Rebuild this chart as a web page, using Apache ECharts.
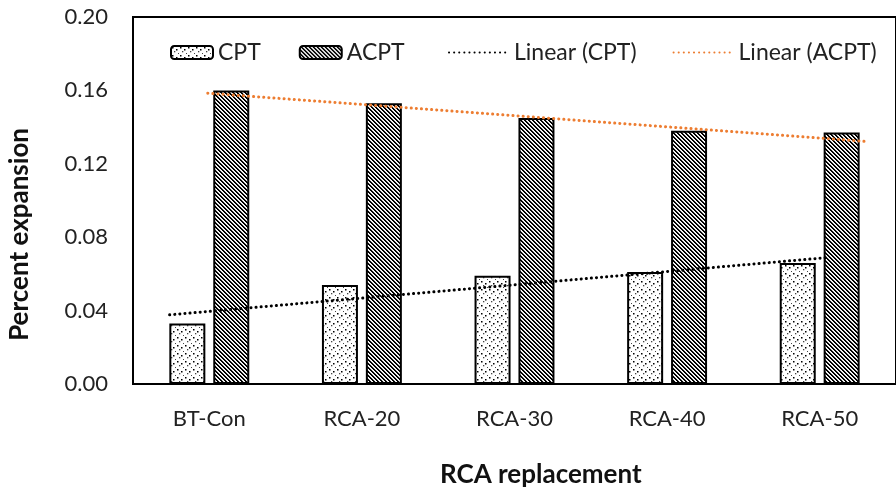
<!DOCTYPE html>
<html>
<head>
<meta charset="utf-8">
<script src="https://cdn.jsdelivr.net/npm/echarts@6/dist/echarts.min.js"></script>
<style>
  html, body { margin: 0; padding: 0; background: #fff; }
  #chart { width: 896px; height: 496px; }
</style>
</head>
<body>
<div id="chart"></div>
<script>
// data
var categories = ['BT-Con', 'RCA-20', 'RCA-30', 'RCA-40', 'RCA-50']
var cptValues = [0.033, 0.054, 0.059, 0.061, 0.066]
var acptValues = [0.160, 0.153, 0.145, 0.138, 0.137]
// trendline end points as drawn (x in category units, 1 = first category)
var cptTrend = [[0.74, 0.0377], [5.05, 0.0689]]
var acptTrend = [[0.99, 0.1585], [5.30, 0.1322]]

var FONT = 'Lato, "Liberation Sans", sans-serif'

// fill patterns
function dotPattern() {
  var c = document.createElement('canvas')
  c.width = 8; c.height = 8
  var g = c.getContext('2d')
  g.fillStyle = '#fff'
  g.fillRect(0, 0, 8, 8)
  g.fillStyle = '#000'
  g.fillRect(1, 1, 1.5, 1.5)
  g.fillRect(5, 3, 1.5, 1.5)
  g.fillStyle = '#444'
  g.fillRect(3, 5, 1.3, 1.3)
  g.fillRect(7, 7, 1.3, 1.3)
  return c
}
function stripePattern() {
  var c = document.createElement('canvas')
  c.width = 4; c.height = 4
  var g = c.getContext('2d')
  g.fillStyle = '#fff'
  g.fillRect(0, 0, 4, 4)
  for (var y = 0; y < 4; y++) {
    for (var x = 0; x < 4; x++) {
      var d = ((x - y) % 4 + 4) % 4
      if (d === 0 || d === 1) {
        g.fillStyle = '#000'
        g.fillRect(x, y, 1, 1)
      } else if (d === 2) {
        g.fillStyle = '#ddd'
        g.fillRect(x, y, 1, 1)
      }
    }
  }
  return c
}

var chart = echarts.init(document.getElementById('chart'), null, { renderer: 'canvas' })

var legendText = { fontFamily: FONT, fontSize: 23, color: '#222' }

chart.setOption({
  animation: false,
  backgroundColor: '#fff',
  textStyle: { fontFamily: FONT },
  grid: {
    left: 133, top: 17, right: -3, bottom: 112,
    show: true, borderColor: '#000', borderWidth: 2
  },
  legend: [{
    top: 36, left: 165,
    itemWidth: 42, itemHeight: 13, itemGap: 38, itemTextGap: 4,
    textStyle: legendText,
    data: [
      { name: 'CPT', itemStyle: { borderColor: '#000', borderWidth: 2 } },
      { name: 'ACPT', itemStyle: { borderColor: '#000', borderWidth: 2 } }
    ]
  }, {
    top: 36, left: 443,
    itemWidth: 60, itemHeight: 13, itemGap: 36, itemTextGap: 6,
    textStyle: legendText,
    data: [
      { name: 'Linear (CPT)', itemStyle: { opacity: 0 } },
      { name: 'Linear (ACPT)', itemStyle: { opacity: 0 } }
    ]
  }],
  xAxis: [{
    type: 'category',
    data: categories,
    axisLine: { lineStyle: { color: '#000', width: 2 } },
    axisTick: { show: false },
    axisLabel: { fontFamily: FONT, fontSize: 22, color: '#222', margin: 24 }
  }, {
    type: 'value',
    min: 0.5, max: 5.5,
    show: false
  }],
  yAxis: {
    type: 'value',
    min: 0, max: 0.20, interval: 0.04,
    axisLine: { show: true, lineStyle: { color: '#000', width: 2 } },
    axisTick: { show: false },
    splitLine: { show: false },
    axisLabel: {
      fontFamily: FONT, fontSize: 22, color: '#222', margin: 25,
      formatter: function (v) { return v.toFixed(2) }
    }
  },
  graphic: [{
    type: 'text',
    left: 7, top: 128,
    rotation: Math.PI / 2,
    style: { text: 'Percent expansion', fontFamily: FONT, fontSize: 26, fontWeight: 'bold', fill: '#111' }
  }, {
    type: 'text',
    left: 440, top: 462,
    style: { text: 'RCA replacement', fontFamily: FONT, fontSize: 26, fontWeight: 'bold', fill: '#111' }
  }],
  series: [{
    name: 'CPT',
    type: 'bar',
    data: cptValues,
    barWidth: 36,
    barGap: '22%',
    itemStyle: {
      color: { image: dotPattern(), repeat: 'repeat' },
      borderColor: '#000', borderWidth: 2
    }
  }, {
    name: 'ACPT',
    type: 'bar',
    data: acptValues,
    barWidth: 36,
    barGap: '22%',
    itemStyle: {
      color: { image: stripePattern(), repeat: 'repeat' },
      borderColor: '#000', borderWidth: 2
    }
  }, {
    name: 'Linear (CPT)',
    type: 'line',
    xAxisIndex: 1,
    data: cptTrend,
    symbol: 'none',
    itemStyle: { color: '#000' },
    lineStyle: { color: '#000', width: 3, type: [0.1, 5], cap: 'round' },
    z: 5
  }, {
    name: 'Linear (ACPT)',
    type: 'line',
    xAxisIndex: 1,
    data: acptTrend,
    symbol: 'none',
    itemStyle: { color: '#ED7D31' },
    lineStyle: { color: '#ED7D31', width: 3, type: [0.1, 5], cap: 'round' },
    z: 5
  }]
})
</script>
</body>
</html>
